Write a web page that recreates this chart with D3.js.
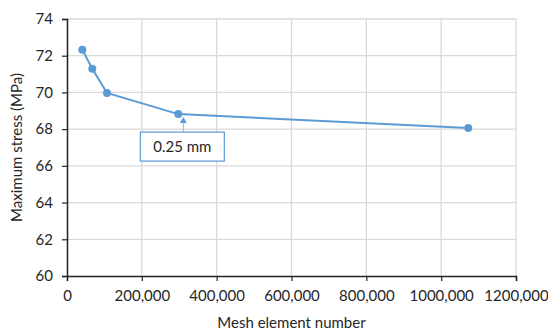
<!DOCTYPE html>
<html lang="en">
<head>
    <meta charset="UTF-8">
    <title>Maximum stress vs mesh element number</title>
    <script src="https://d3js.org/d3.v7.min.js"></script>
    <style>
        body { margin: 0; background: #fff; }
        text { font-family: Lato, "Open Sans", sans-serif; fill: #262626; }
    </style>
</head>
<body>
    <svg width="548" height="334"></svg>

    <script>
        // Data
        const meshElements = [40900, 67600, 106900, 297500, 1072500];
        const maxStress = [72.33, 71.29, 69.97, 68.82, 68.06];

        const xTicks = [0, 200000, 400000, 600000, 800000, 1000000, 1200000];
        const xTickLabels = ["0", "200,000", "400,000", "600,000", "800,000", "1000,000", "1200,000"];
        const yTicks = [60, 62, 64, 66, 68, 70, 72, 74];

        const calloutText = "0.25 mm";
        const calloutIndex = 3;

        const svg = d3.select("svg");
        const margin = { left: 67, right: 32, top: 19, bottom: 58 };
        const width = 548, height = 334;
        const blue = "#5b9bd5";

        const x = d3.scaleLinear().domain([0, 1200000]).range([margin.left, width - margin.right]);
        const y = d3.scaleLinear().domain([60, 74]).range([height - margin.bottom, margin.top]);

        // Gridlines
        svg.append("g")
            .selectAll("line")
            .data(xTicks.slice(1))
            .enter().append("line")
            .attr("x1", d => x(d)).attr("x2", d => x(d))
            .attr("y1", y(60)).attr("y2", y(74))
            .attr("stroke", "#d9d9d9").attr("stroke-width", 1.3);

        svg.append("g")
            .selectAll("line")
            .data(yTicks.slice(1))
            .enter().append("line")
            .attr("x1", x(0)).attr("x2", x(1200000))
            .attr("y1", d => y(d)).attr("y2", d => y(d))
            .attr("stroke", "#d9d9d9").attr("stroke-width", 1.3);

        // Axes
        const xAxis = svg.append("g")
            .attr("transform", `translate(0,${y(60)})`)
            .call(d3.axisBottom(x).tickValues(xTicks)
                .tickFormat((d, i) => xTickLabels[i]).tickSize(5).tickPadding(9));

        const yAxis = svg.append("g")
            .attr("transform", `translate(${x(0)},0)`)
            .call(d3.axisLeft(y).tickValues(yTicks).tickSize(5).tickPadding(9));

        [xAxis, yAxis].forEach(g => {
            g.select(".domain").attr("stroke", "#222").attr("stroke-width", 1.5);
            g.selectAll(".tick line").attr("stroke", "#222").attr("stroke-width", 1.2);
            g.selectAll("text").style("font-size", "15px").attr("fill", "#262626");
        });

        // Axis titles
        svg.append("text")
            .attr("x", (x(0) + x(1200000)) / 2)
            .attr("y", 328)
            .attr("text-anchor", "middle")
            .style("font-size", "15px")
            .text("Mesh element number");

        svg.append("text")
            .attr("transform", `translate(22,${(y(60) + y(74)) / 2}) rotate(-90)`)
            .attr("text-anchor", "middle")
            .style("font-size", "15px")
            .text("Maximum stress (MPa)");

        // Series line and markers
        const points = meshElements.map((m, i) => [m, maxStress[i]]);

        svg.append("path")
            .datum(points)
            .attr("fill", "none")
            .attr("stroke", blue)
            .attr("stroke-width", 2)
            .attr("d", d3.line().x(d => x(d[0])).y(d => y(d[1])));

        svg.append("g")
            .selectAll("circle")
            .data(points)
            .enter().append("circle")
            .attr("cx", d => x(d[0]))
            .attr("cy", d => y(d[1]))
            .attr("r", 4)
            .attr("fill", blue);

        // Callout for the 0.25 mm mesh
        const cp = points[calloutIndex];
        const ax = x(cp[0]) + 5, ay = y(cp[1]) + 3;
        const boxW = 84, boxH = 29, boxX = ax - 43, boxY = ay + 15;

        svg.append("line")
            .attr("x1", ax).attr("x2", ax)
            .attr("y1", ay + 5).attr("y2", boxY)
            .attr("stroke", "#8fbbe6").attr("stroke-width", 1);

        svg.append("path")
            .attr("d", `M${ax},${ay} L${ax - 3.5},${ay + 6} L${ax + 3.5},${ay + 6} Z`)
            .attr("fill", blue);

        svg.append("rect")
            .attr("x", boxX).attr("y", boxY)
            .attr("width", boxW).attr("height", boxH)
            .attr("fill", "#fff")
            .attr("stroke", blue).attr("stroke-width", 1.2);

        svg.append("text")
            .attr("x", boxX + boxW / 2)
            .attr("y", boxY + boxH / 2 + 5)
            .attr("text-anchor", "middle")
            .style("font-size", "15px")
            .text(calloutText);
    </script>
</body>
</html>
